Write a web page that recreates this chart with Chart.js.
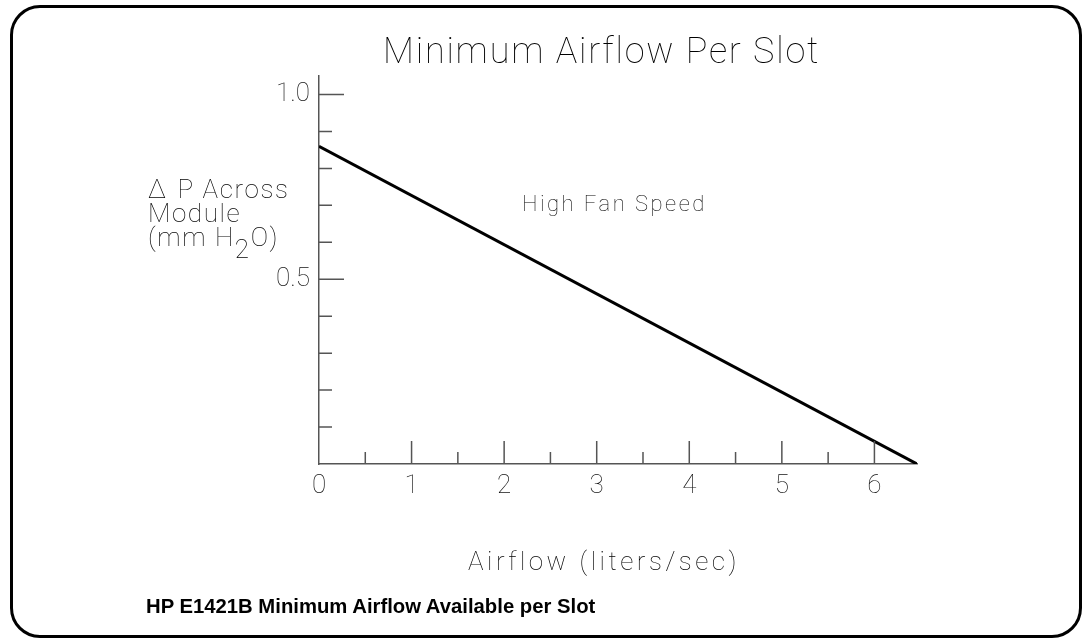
<!DOCTYPE html>
<html>
<head>
<meta charset="utf-8">
<script src="https://cdn.jsdelivr.net/npm/chart.js@4"></script>
<style>
  body { margin: 0; background: #fff; }
  #wrap { position: relative; width: 1082px; height: 638px; overflow: hidden; }
  #frame { position: absolute; left: 10px; top: 5px; width: 1072px; height: 633px;
           box-sizing: border-box; border: 3px solid #000; border-radius: 30px; }
  #c { position: absolute; left: 0; top: 0; }
  .t { position: absolute; white-space: nowrap; font-family: Roboto, "DejaVu Sans", sans-serif;
       font-weight: 100; color: #000; }
  #title { left: 383px; top: 33px; font-size: 36px; line-height: 36px; letter-spacing: 1.8px; }
  #ylab { left: 148px; top: 177px; font-size: 26px; line-height: 24px; letter-spacing: 1.6px; }
  #ylab .d { margin-right: 10px; }
  #ylab sub { font-size: 26px; vertical-align: -12px; line-height: 0; }
  #note { left: 522px; top: 193px; font-size: 22px; line-height: 22px; letter-spacing: 2.5px; }
  #xlab { left: 468px; top: 548px; font-size: 26px; line-height: 26px; letter-spacing: 3.5px; }
  #cap { position: absolute; left: 146px; top: 596px; font: bold 20.3px/20px "Liberation Sans", Arial, sans-serif;
         color: #000; white-space: nowrap; }
</style>
</head>
<body>
<div id="wrap">
  <div id="frame"></div>
  <canvas id="c" width="1082" height="638"></canvas>
  <div class="t" id="title">Minimum Airflow Per Slot</div>
  <div class="t" id="ylab"><span class="d">&Delta;</span>P Across<br>Module<br>(mm H<sub>2</sub>O)</div>
  <div class="t" id="note">High Fan Speed</div>
  <div class="t" id="xlab">Airflow (liters/sec)</div>
  <div id="cap">HP E1421B Minimum Airflow Available per Slot</div>
</div>
<script>
(function () {
    // data
    const airflow = [0, 6.46];         // liters/sec
    const pressure = [0.86, 0];        // mm H2O
    const xLabels = ['0', '1', '2', '3', '4', '5', '6'];
    const yLabels = ['0.5', '1.0'];

    const axisColor = '#555';
    const tickFont = { family: 'Roboto, "DejaVu Sans", sans-serif', size: 26, weight: 100 };

    // short tick marks drawn inside the plot, like the original
    const innerTicks = {
        id: 'innerTicks',
        afterDraw(chart) {
            const ctx = chart.ctx;
            const x = chart.scales.x, y = chart.scales.y;
            const x0 = x.getPixelForValue(0), y0 = y.getPixelForValue(0);
            ctx.save();
            ctx.strokeStyle = axisColor;
            ctx.lineWidth = 1.5;
            ctx.beginPath();
            for (let v = 0.5; v <= 6.01; v += 0.5) {
                const px = x.getPixelForValue(v);
                const len = Number.isInteger(v) ? 23 : 12;
                ctx.moveTo(px, y0);
                ctx.lineTo(px, y0 - len);
            }
            for (let i = 1; i <= 10; i++) {
                const py = y.getPixelForValue(i / 10);
                const len = (i % 5 === 0) ? 25 : 13;
                ctx.moveTo(x0, py);
                ctx.lineTo(x0 + len, py);
            }
            ctx.stroke();
            ctx.restore();
        }
    };

    new Chart(document.getElementById('c'), {
        type: 'line',
        data: {
            datasets: [{
                data: airflow.map((a, i) => ({ x: a, y: pressure[i] })),
                borderColor: '#000',
                borderWidth: 3,
                pointRadius: 0,
                tension: 0
            }]
        },
        options: {
            responsive: false,
            animation: false,
            devicePixelRatio: 1,
            layout: { padding: { left: 0, top: 76, right: 165, bottom: 0 } },
            plugins: { legend: { display: false }, tooltip: { enabled: false } },
            scales: {
                x: {
                    type: 'linear',
                    min: 0, max: 6.46,
                    afterFit(s) { s.height = 174; },
                    grid: { display: true, drawOnChartArea: false, drawTicks: false },
                    border: { display: true, color: axisColor, width: 1.5 },
                    ticks: {
                        stepSize: 1,
                        includeBounds: false,
                        autoSkip: false,
                        maxRotation: 0,
                        padding: 7,
                        color: '#111',
                        font: tickFont,
                        callback: v => xLabels.includes(String(v)) ? String(v) : ''
                    }
                },
                y: {
                    type: 'linear',
                    min: 0, max: 1.05,
                    afterFit(s) { s.width = 319; },
                    grid: { display: true, drawOnChartArea: false, drawTicks: false },
                    border: { display: true, color: axisColor, width: 1.5 },
                    ticks: {
                        stepSize: 0.1,
                        includeBounds: false,
                        autoSkip: false,
                        padding: 9,
                        color: '#111',
                        font: tickFont,
                        callback: v => {
                            const s = v.toFixed(1);
                            return yLabels.includes(s) ? s : '';
                        }
                    }
                }
            }
        },
        plugins: [innerTicks]
    });
})();
</script>
</body>
</html>
